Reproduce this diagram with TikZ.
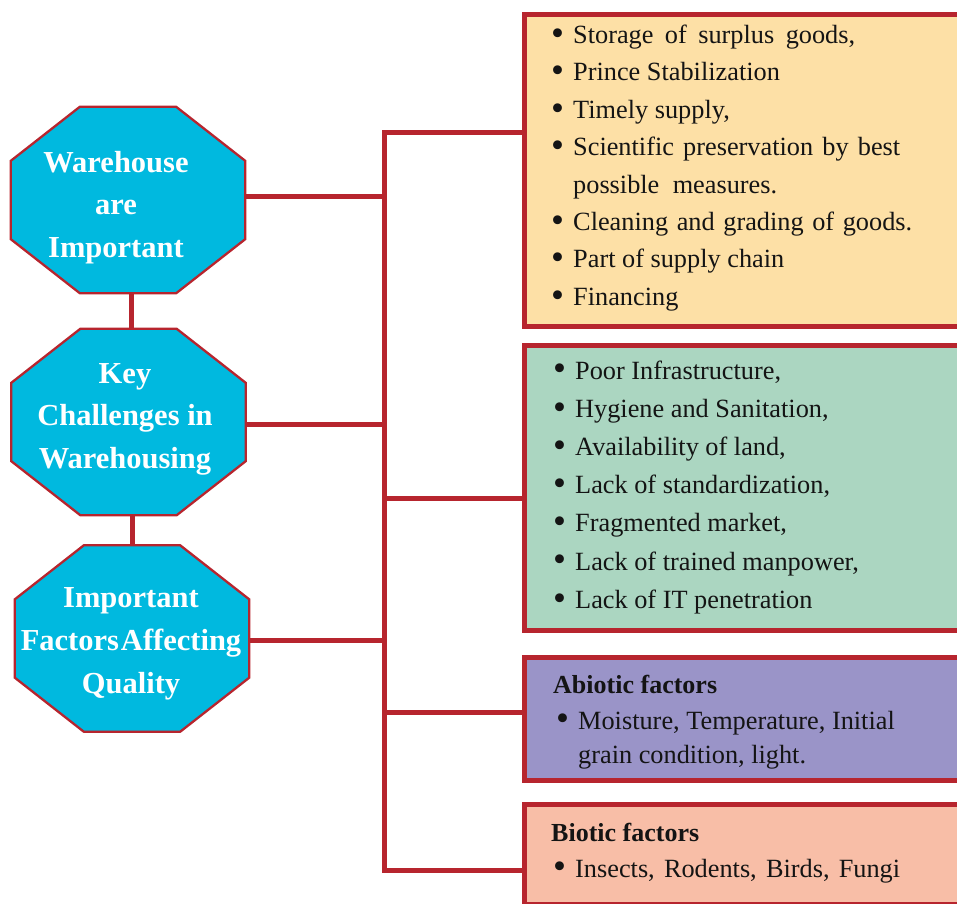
\documentclass[tikz,border=0pt]{standalone}
\usepackage{fontspec}
\setmainfont{Liberation Serif}
\usetikzlibrary{calc}
\definecolor{lnred}{HTML}{B7252E}
\definecolor{octcyan}{HTML}{00B9DF}
\definecolor{boxA}{HTML}{FDE0A6}
\definecolor{boxB}{HTML}{ABD6C1}
\definecolor{boxC}{HTML}{9A94C8}
\definecolor{boxD}{HTML}{F8BEA7}
\definecolor{txt}{HTML}{141414}
\newcommand\bul{\makebox[22pt][l]{\raisebox{-1.8pt}{\fontsize{37}{37}\selectfont\textbullet}}}
\newcommand\nobul{\hspace*{22pt}}
\newcommand\octpath[1]{%
  \path[octline] ([xshift=69pt]#1.north west) -- ([xshift=-69pt]#1.north east)
    -- ([yshift=-54pt]#1.north east) -- ([yshift=54pt]#1.south east)
    -- ([xshift=-69pt]#1.south east) -- ([xshift=69pt]#1.south west)
    -- ([yshift=54pt]#1.south west) -- ([yshift=-54pt]#1.north west) -- cycle;}
\begin{document}
\begin{tikzpicture}[x=1pt,y=-1pt,
  octshape/.style={rectangle, draw=none, inner sep=0pt, minimum width=234pt, minimum height=186pt},
  octline/.style={draw=lnred, line width=2.3pt, fill=octcyan, line join=miter},
  octtext/.style={anchor=base, inner sep=0pt, text=white, font=\bfseries\fontsize{30.5}{34}\selectfont},
  conn/.style={draw=lnred, line width=5pt},
  infobox/.style={rectangle, draw=lnred, line width=5pt, inner sep=0pt, anchor=north west, minimum width=480pt},
  item/.style={anchor=base west, inner sep=0pt, text=txt, font=\fontsize{26.3}{30}\selectfont},
  head/.style={anchor=base west, inner sep=0pt, text=txt, font=\bfseries\fontsize{26}{30}\selectfont}]
\useasboundingbox (0,0) rectangle (957,903);

% shape holders
\node[octshape] (o1) at (128,200) {};
\node[octshape] (o2) at (128.5,422) {};
\node[octshape] (o3) at (132,638.5) {};

% boxes
\node[infobox, fill=boxA, minimum height=312pt] (b1) at (521.5,12) {};
\node[infobox, fill=boxB, minimum height=285pt] (b2) at (521.5,343) {};
\node[infobox, fill=boxC, minimum height=123pt] (b3) at (521.5,655) {};
\node[infobox, fill=boxD, minimum height=100pt] (b4) at (521.5,802) {};

% trunk junctions
\coordinate (j1) at (384,132);
\coordinate (j2) at (384,498);
\coordinate (j3) at (384,712);
\coordinate (j4) at (384,870);
\coordinate (k1) at (384,196);
\coordinate (k2) at (384,424);
\coordinate (k3) at (384,640);

% connectors
\draw[conn] (j1 -| b1.west) -- (j1) -- (j4) -- (j4 -| b4.west);
\draw[conn] (j2) -- (j2 -| b2.west);
\draw[conn] (j3) -- (j3 -| b3.west);
\draw[conn] (o1.east |- k1) -- (k1);
\draw[conn] (o2.east |- k2) -- (k2);
\draw[conn] (o3.east |- k3) -- (k3);
\draw[conn] ([xshift=3.5pt]o1.south) -- ([xshift=3.5pt]o1.south |- o2.north);
\draw[conn] ([xshift=3.5pt]o2.south) -- ([xshift=3.5pt]o2.south |- o3.north);

% octagons
\octpath{o1}
\octpath{o2}
\octpath{o3}

% octagon texts
\node[octtext] (t11) at (116,172) {Warehouse};
\node[octtext] (t12) at (116,214) {are};
\node[octtext] (t13) at (116,257) {Important};
\node[octtext] (t21) at (125,383) {Key};
\node[octtext] (t22) at (125,425.5) {Challenges in};
\node[octtext] (t23) at (125,468) {Warehousing};
\node[octtext] (t31) at (131,607) {Important};
\node[octtext] (t32) at (131,650) {Factors\hspace{2pt}Affecting};
\node[octtext] (t33) at (131,693) {Quality};

% box 1 items
\foreach \t [count=\i] in {{\bul\makebox[282pt][s]{Storage of surplus goods,}},{\bul Prince Stabilization},{\bul Timely supply,},{\bul\makebox[327pt][s]{Scientific preservation by best}},{\nobul\makebox[204pt][s]{possible measures.}},{\bul\makebox[339pt][s]{Cleaning and grading of goods.}},{\bul Part of supply chain},{\bul Financing}}
  \node[item] (p\i) at (551,{43.5+37.4*(\i-1)}) {\t};

% box 2 items
\foreach \t [count=\i] in {{\bul Poor Infrastructure,},{\bul Hygiene and Sanitation,},{\bul Availability of land,},{\bul Lack of standardization,},{\bul Fragmented market,},{\bul Lack of trained manpower,},{\bul Lack of IT penetration}}
  \node[item] (q\i) at (553,{379+38.2*(\i-1)}) {\t};

% box 3
\node[head] (r0) at (553,693) {Abiotic factors};
\node[item] (r1) at (556,729) {\bul Moisture, Temperature, Initial};
\node[item] (r2) at (556,763) {\nobul grain condition, light.};

% box 4
\node[head] (s0) at (551,841) {Biotic factors};
\node[item] (s1) at (553,877) {\bul\makebox[325pt][s]{Insects, Rodents, Birds, Fungi}};
\end{tikzpicture}
\end{document}
